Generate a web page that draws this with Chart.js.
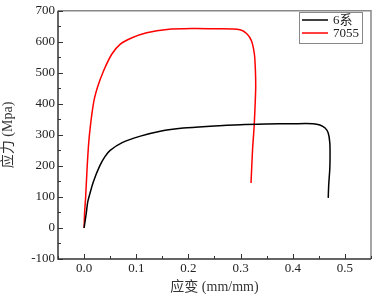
<!DOCTYPE html>
<html>
<head>
<meta charset="utf-8">
<script src="https://cdn.jsdelivr.net/npm/chart.js@4/dist/chart.umd.min.js"></script>
<style>
  html, body { margin: 0; padding: 0; background: #fff; }
  #wrap { width: 373px; height: 296px; }
</style>
</head>
<body>
<div id="wrap"><canvas id="chart"></canvas></div>
<script>
// series (strain mm/mm, stress MPa)
const seriesNames = ['6系', '7055'];
const strain6 = [0, 0.004, 0.007, 0.011, 0.018, 0.030, 0.040, 0.050, 0.073, 0.108, 0.146, 0.19, 0.242, 0.30, 0.35, 0.40, 0.439, 0.452, 0.462, 0.468, 0.471, 0.4715, 0.471, 0.469, 0.468];
const stress6 = [0, 45, 84, 110, 150, 200, 230, 250, 275, 296, 312, 322, 328, 333, 335, 336, 336, 332, 322, 306, 275, 230, 190, 140, 97];
const strain7055 = [0, 0.001, 0.003, 0.006, 0.010, 0.018, 0.026, 0.0375, 0.053, 0.069, 0.092, 0.120, 0.159, 0.209, 0.25, 0.299, 0.312, 0.321, 0.3265, 0.3284, 0.329, 0.328, 0.326, 0.323, 0.320];
const stress7055 = [0, 50, 100, 200, 296, 402, 455, 507, 560, 592, 613, 629, 640, 643, 642, 639, 626, 603, 560, 508, 455, 402, 328, 254, 145];
const xTicks = [0, 0.1, 0.2, 0.3, 0.4, 0.5];
const yTicks = [-100, 0, 100, 200, 300, 400, 500, 600, 700];

const serif = '"Liberation Serif", "Noto Sans CJK SC", serif';

function toPoints(xs, ys) {
    return xs.map((x, i) => ({ x: x, y: ys[i] }));
}

// inward major/minor ticks, top/right frame and the boxed legend
const framePlugin = {
    id: 'frame',
    afterDraw(chart) {
        const ctx = chart.ctx;
        const a = chart.chartArea;
        const xs = chart.scales.x;
        const ys = chart.scales.y;
        ctx.save();
        ctx.strokeStyle = '#888';
        ctx.lineWidth = 1.5;
        ctx.beginPath();
        ctx.moveTo(a.left, a.top);
        ctx.lineTo(a.right, a.top);
        ctx.lineTo(a.right, a.bottom);
        ctx.stroke();

        ctx.strokeStyle = '#333';
        ctx.lineWidth = 1.5;
        ctx.beginPath();
        ctx.moveTo(a.left, a.top);
        ctx.lineTo(a.left, a.bottom);
        ctx.lineTo(a.right, a.bottom);
        ctx.stroke();

        ctx.lineWidth = 1;
        ctx.beginPath();
        for (let v = -0.05; v <= 0.5501; v += 0.05) {
            const px = Math.round(xs.getPixelForValue(v)) + 0.5;
            const major = Math.abs(v * 10 - Math.round(v * 10)) < 0.01;
            ctx.moveTo(px, a.bottom);
            ctx.lineTo(px, a.bottom - (major ? 5 : 3));
        }
        for (let v = -100; v <= 700; v += 50) {
            const py = Math.round(ys.getPixelForValue(v)) + 0.5;
            const major = v % 100 === 0;
            ctx.moveTo(a.left, py);
            ctx.lineTo(a.left + (major ? 5 : 3), py);
        }
        ctx.stroke();

        // legend box
        const bx = 299, by = 12, bw = 63, bh = 31;
        ctx.fillStyle = '#fff';
        ctx.fillRect(bx, by, bw, bh);
        ctx.strokeStyle = '#888';
        ctx.strokeRect(bx + 0.5, by + 0.5, bw, bh);
        ctx.font = '13px ' + serif;
        ctx.textBaseline = 'middle';
        chart.data.datasets.forEach((ds, i) => {
            const ly = by + 8 + i * 13;
            ctx.strokeStyle = ds.borderColor;
            ctx.lineWidth = 1.5;
            ctx.beginPath();
            ctx.moveTo(bx + 3, ly);
            ctx.lineTo(bx + 29, ly);
            ctx.stroke();
            ctx.fillStyle = '#222';
            ctx.fillText(ds.label, bx + 34, ly + 0.5);
        });
        ctx.restore();
    }
};

new Chart(document.getElementById('chart'), {
    type: 'scatter',
    data: {
        datasets: [{
            label: seriesNames[0],
            data: toPoints(strain6, stress6),
            borderColor: '#000000',
            borderWidth: 1.5,
            showLine: true,
            pointRadius: 0,
            tension: 0.3
        }, {
            label: seriesNames[1],
            data: toPoints(strain7055, stress7055),
            borderColor: '#ff0000',
            borderWidth: 1.5,
            showLine: true,
            pointRadius: 0,
            tension: 0.3
        }]
    },
    options: {
        responsive: true,
        maintainAspectRatio: false,
        animation: false,
        layout: { padding: { top: 5, right: 2, left: 0, bottom: 0 } },
        plugins: {
            legend: { display: false },
            tooltip: { enabled: false }
        },
        scales: {
            x: {
                type: 'linear',
                min: -0.05,
                max: 0.55,
                afterBuildTicks: s => { s.ticks = xTicks.map(v => ({ value: v })); },
                afterFit: s => { s.height = 37; },
                grid: { display: false, drawTicks: false },
                border: { display: false },
                ticks: {
                    color: '#222',
                    padding: 2,
                    font: { family: serif, size: 13 },
                    callback: v => v.toFixed(1)
                },
                title: {
                    display: true,
                    text: '应变 (mm/mm)',
                    color: '#333',
                    padding: { top: 0, bottom: 0 },
                    font: { family: serif, size: 14 }
                }
            },
            y: {
                min: -100,
                max: 700,
                afterBuildTicks: s => { s.ticks = yTicks.map(v => ({ value: v })); },
                afterFit: s => { s.width = 58; },
                grid: { display: false, drawTicks: false },
                border: { display: false },
                ticks: {
                    color: '#222',
                    padding: 3,
                    font: { family: serif, size: 13 }
                },
                title: {
                    display: true,
                    text: '应力 (Mpa)',
                    color: '#333',
                    padding: { top: 0, bottom: 0 },
                    font: { family: serif, size: 14 }
                }
            }
        }
    },
    plugins: [framePlugin]
});
</script>
</body>
</html>
